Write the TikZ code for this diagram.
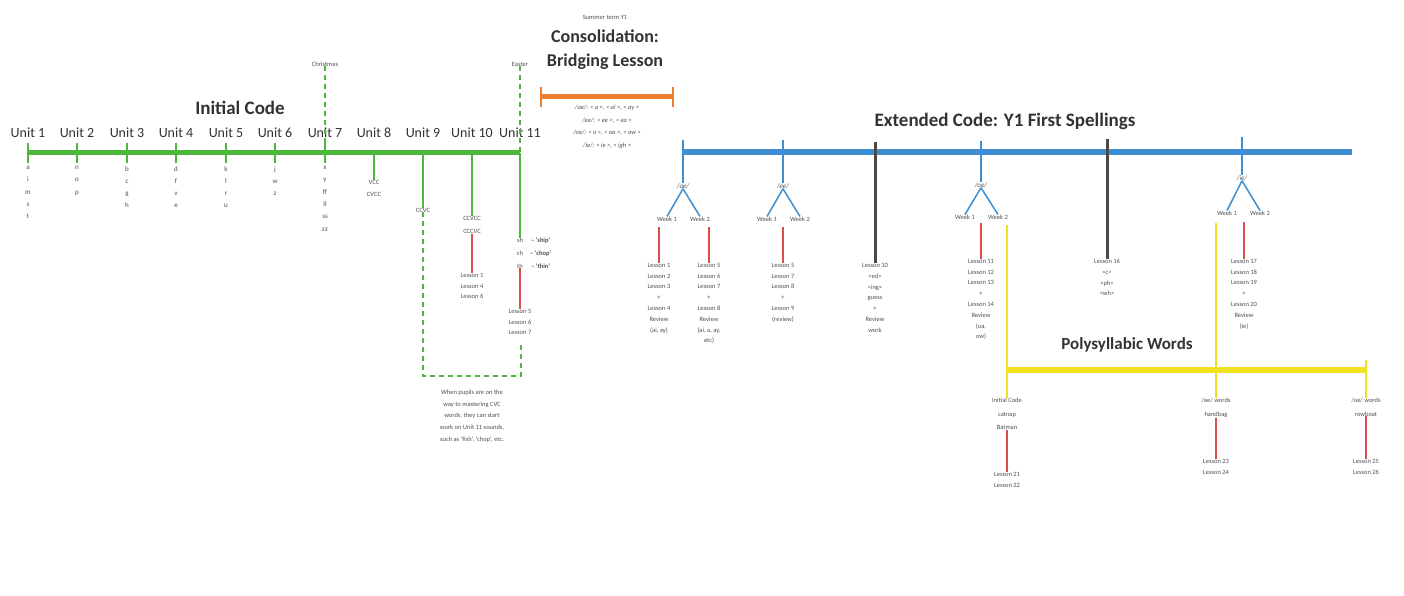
\documentclass[tikz,border=0pt]{standalone}
\usepackage{fontspec}
\setmainfont{Carlito}
\definecolor{cgreen}{HTML}{4DB83C}
\definecolor{cblue}{HTML}{3D8FD1}
\definecolor{corange}{HTML}{EE7D2E}
\definecolor{cyellow}{HTML}{F1DF22}
\definecolor{cred}{HTML}{DA4F4A}
\definecolor{cdark}{HTML}{4A4A4A}
\definecolor{ctext}{HTML}{505050}
\begin{document}
\begin{tikzpicture}[x=1pt,y=-1pt,
  small/.style={font=\fontsize{6.5}{10.8}\selectfont, text=ctext, align=center, inner sep=0pt},
  letters/.style={font=\fontsize{7}{12.3}\selectfont, text=ctext, align=center, inner sep=0pt, anchor=north},
  unitlbl/.style={font=\fontsize{14}{16}\selectfont, text=black!80, inner sep=0pt},
  ttl/.style={font=\fontsize{19}{22}\selectfont\bfseries, text=black!80, inner sep=0pt, align=center},
  gline/.style={cgreen, line width=5pt},
  gstem/.style={cgreen, line width=2pt},
  gdash/.style={cgreen, line width=2pt, dash pattern=on 5pt off 4pt},
  redl/.style={cred, line width=2.5pt},
  oline/.style={corange, line width=5pt},
  ostem/.style={corange, line width=2pt},
  bline/.style={cblue, line width=6pt},
  bstem/.style={cblue, line width=2pt},
  bdiag/.style={cblue, line width=1.5pt},
  kstem/.style={cdark, line width=3pt},
  yline/.style={cyellow, line width=6pt},
  ystem/.style={cyellow, line width=2pt},
]
\useasboundingbox[fill=white] (0,0) rectangle (1404,596);

% ---------------- Initial Code ----------------
\node[ttl] (ic) at (240,108) {Initial Code};
\foreach \i/\x in {1/28,2/77,3/127,4/176,5/226,6/275,7/325,8/374,9/423,10/472,11/520} {
  \coordinate (g\i) at (\x,153);
  \coordinate (gt\i) at (\x,143);
  \coordinate (gb\i) at (\x,163);
  \node[unitlbl] (u\i) at (\x,133) {Unit \i};
}
\draw[gline] (g1) -- (g11);
\foreach \i in {1,...,7} { \draw[gstem] (gt\i) -- (gb\i); }

\node[letters] (a1) at (28,166) {a\\i\\m\\s\\t};
\node[letters] (a2) at (77,166) {n\\o\\p};
\node[letters] (a3) at (127,166) {b\\c\\g\\h};
\node[letters] (a4) at (176,166) {d\\f\\v\\e};
\node[letters] (a5) at (226,166) {k\\l\\r\\u};
\node[letters] (a6) at (275,166) {j\\w\\z};
\node[letters] (a7) at (325,166) {x\\y\\ff\\ll\\ss\\zz};

% Christmas / Easter
\node[small] (xmas) at (325,64) {Christmas};
\node[small] (easter) at (520,64) {Easter};
\draw[gdash] (xmas.south) -- (g7);
\draw[gdash] (easter.south) -- (g11);

% Unit 8
\node[small, font=\fontsize{6.5}{12}\selectfont, anchor=north] (c8) at (374,180) {VCC\\CVCC};
\draw[gstem] (g8) -- (c8.north);

% Unit 9
\node[small] (c9) at (423,210) {CCVC};
\coordinate (d2) at (521,376);
\coordinate (d3) at (521,345);
\draw[gstem] (g9) -- (c9.north);
\draw[gdash] (c9.south) |- (d2) -- (d3);
\node[small, font=\fontsize{6.5}{11.7}\selectfont] (note) at (472,416)
  {When pupils are on the\\way to mastering CVC\\words, they can start\\work on Unit 11 sounds,\\such as `fish', `chop', etc.};

% Unit 10
\node[small, font=\fontsize{6.5}{13}\selectfont] (c10) at (472,225) {CCVCC\\CCCVC};
\node[small, anchor=north] (l10) at (472,273) {Lesson 1\\Lesson 4\\Lesson 6};
\draw[gstem] (g10) -- (c10.north);
\draw[redl] (c10.south) -- (l10.north);

% Unit 11
\node[small, font=\fontsize{6.5}{13}\selectfont] (c11) at (520,253) {sh\\ch\\th};
\node[small, font=\fontsize{6.5}{13}\selectfont\bfseries, anchor=west] (w11) at (530,253) {-- `ship'\\-- `chop'\\-- `thin'};
\node[small, anchor=north] (l11) at (520,309) {Lesson 5\\Lesson 6\\Lesson 7};
\draw[gstem] (g11) -- (c11.north);
\draw[redl] (c11.south) -- (l11.north);

% ---------------- Consolidation ----------------
\node[small] (summer) at (605,17) {Summer term Y1};
\node[ttl, font=\fontsize{18}{24}\selectfont\bfseries] (cons) at (605,50) {Consolidation:\\Bridging Lesson};
\coordinate (o1) at (541,97);
\coordinate (o2) at (673,97);
\coordinate (o1t) at (541,87);
\coordinate (o1b) at (541,107);
\coordinate (o2t) at (673,87);
\coordinate (o2b) at (673,107);
\draw[oline] (o1) -- (o2);
\draw[ostem] (o1t) -- (o1b);
\draw[ostem] (o2t) -- (o2b);
\node[small, font=\fontsize{6.5}{12.6}\selectfont\itshape] (ph) at (607,127)
  {/ae/: < a >, < ai >, < ay >\\/ee/: < ee >, < ea >\\/oe/: < o >, < oa >, < ow >\\/ie/: < ie >, < igh >};

% ---------------- Extended Code ----------------
\node[ttl] (ec) at (1005,121) {Extended Code: Y1 First Spellings};
\coordinate (b0) at (683,152);
\coordinate (b1) at (1352,152);
\draw[bline] (b0) -- (b1);

% branch A (/ae/)
\coordinate (bAt) at (683,140);
\node[small, font=\fontsize{7}{9}\selectfont\itshape] (lA) at (683,186) {/ae/};
\node[small] (wA1) at (667,219) {Week 1};
\node[small] (wA2) at (700,219) {Week 2};
\node[small, anchor=north] (tA1) at (659,263) {Lesson 1\\Lesson 2\\Lesson 3\\+\\Lesson 4\\Review\\(ai, ay)};
\node[small, anchor=north] (tA2) at (709,263) {Lesson 5\\Lesson 6\\Lesson 7\\+\\Lesson 8\\Review\\(ai, a, ay,\\etc)};
\coordinate (rA1) at (659,227);
\coordinate (rA2) at (709,227);
\draw[bstem] (bAt) -- (lA.north);
\draw[bdiag] (lA.south) -- (wA1.north);
\draw[bdiag] (lA.south) -- (wA2.north);
\draw[redl] (rA1) -- (tA1.north);
\draw[redl] (rA2) -- (tA2.north);

% branch B (/ee/)
\coordinate (bBt) at (783,140);
\node[small, font=\fontsize{7}{9}\selectfont\itshape] (lB) at (783,186) {/ee/};
\node[small] (wB1) at (767,219) {Week 1};
\node[small] (wB2) at (800,219) {Week 2};
\node[small, anchor=north] (tB) at (783,263) {Lesson 5\\Lesson 7\\Lesson 8\\+\\Lesson 9\\(review)};
\coordinate (rB) at (783,227);
\draw[bstem] (bBt) -- (lB.north);
\draw[bdiag] (lB.south) -- (wB1.north);
\draw[bdiag] (lB.south) -- (wB2.north);
\draw[redl] (rB) -- (tB.north);

% black K1
\coordinate (k1t) at (875,142);
\node[small, anchor=north] (k1) at (875,263) {Lesson 10\\<ed>\\<ing>\\guess\\+\\Review\\work};
\draw[kstem] (k1t) -- (k1.north);

% branch C (/oe/)
\coordinate (bCt) at (981,141);
\node[small, font=\fontsize{7}{9}\selectfont\itshape] (lC) at (981,185) {/oe/};
\node[small] (wC1) at (965,217) {Week 1};
\node[small] (wC2) at (998,217) {Week 2};
\node[small, anchor=north] (tC) at (981,259) {Lesson 11\\Lesson 12\\Lesson 13\\+\\Lesson 14\\Review\\(oa,\\ow)};
\coordinate (rC) at (981,223);
\draw[bstem] (bCt) -- (lC.north);
\draw[bdiag] (lC.south) -- (wC1.north);
\draw[bdiag] (lC.south) -- (wC2.north);
\draw[redl] (rC) -- (tC.north);

% black K2
\coordinate (k2t) at (1107,139);
\node[small, anchor=north] (k2) at (1107,259) {Lesson 16\\<c>\\<ph>\\<wh>};
\draw[kstem] (k2t) -- (k2.north);

% branch D (/ie/)
\coordinate (bDt) at (1242,137);
\node[small, font=\fontsize{7}{9}\selectfont\itshape] (lD) at (1242,178) {/ie/};
\node[small] (wD1) at (1227,213) {Week 1};
\node[small] (wD2) at (1260,213) {Week 2};
\node[small, anchor=north] (tD) at (1244,259) {Lesson 17\\Lesson 18\\Lesson 19\\+\\Lesson 20\\Review\\(ie)};
\coordinate (rD) at (1244,222);
\draw[bstem] (bDt) -- (lD.north);
\draw[bdiag] (lD.south) -- (wD1.north);
\draw[bdiag] (lD.south) -- (wD2.north);
\draw[redl] (rD) -- (tD.north);

% ---------------- Polysyllabic Words ----------------
\node[ttl, font=\fontsize{17}{20}\selectfont\bfseries] (pw) at (1127,345) {Polysyllabic Words};
\coordinate (y1) at (1007,370);
\coordinate (y2) at (1366,370);
\coordinate (ya) at (1007,225);
\coordinate (yb) at (1216,223);
\coordinate (yc) at (1366,360);
\draw[yline] (y1) -- (y2);
\node[small, font=\fontsize{6.5}{13.5}\selectfont, anchor=north] (p1) at (1007,398) {Initial Code\\catnap\\Batman};
\node[small, font=\fontsize{6.5}{13.5}\selectfont, anchor=north] (p2) at (1216,398) {/ae/ words\\handbag};
\node[small, font=\fontsize{6.5}{13.5}\selectfont, anchor=north] (p3) at (1366,398) {/oe/ words\\rowboat};
\draw[ystem] (ya) -- (p1.north);
\draw[ystem] (yb) -- (p2.north);
\draw[ystem] (yc) -- (p3.north);
\node[small, anchor=north] (q1) at (1007,472) {Lesson 21\\Lesson 22};
\node[small, anchor=north] (q2) at (1216,459) {Lesson 23\\Lesson 24};
\node[small, anchor=north] (q3) at (1366,459) {Lesson 25\\Lesson 26};
\draw[redl] (p1.south) -- (q1.north);
\draw[redl] (p2.south) -- (q2.north);
\draw[redl] (p3.south) -- (q3.north);
\end{tikzpicture}
\end{document}
